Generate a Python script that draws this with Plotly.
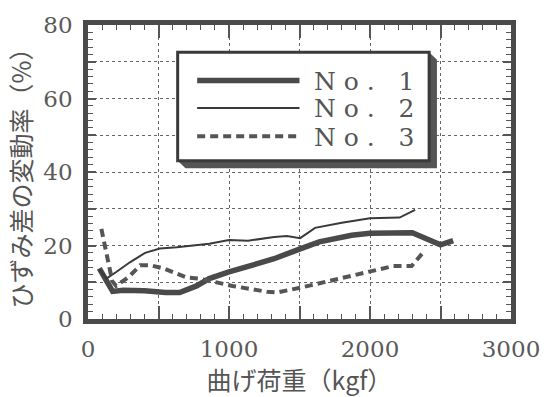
import plotly.graph_objects as go

# ---- data ----
load_1 = [80, 130, 175, 250, 400, 550, 650, 770, 860, 1000, 1180, 1320, 1500, 1640, 1870, 2000, 2300, 2400, 2500, 2590]
rate_1 = [13.8, 10.5, 7.5, 7.8, 7.7, 7.2, 7.2, 9.0, 11.0, 12.8, 15.0, 16.4, 19.0, 21.0, 22.8, 23.3, 23.5, 21.8, 20.2, 21.3]

load_2 = [80, 130, 200, 300, 405, 510, 630, 860, 1000, 1135, 1320, 1410, 1505, 1610, 1800, 2000, 2210, 2320]
rate_2 = [13.5, 11.0, 12.8, 15.5, 18.0, 19.2, 19.5, 20.5, 21.5, 21.3, 22.3, 22.6, 22.0, 24.8, 26.2, 27.4, 27.6, 29.7]

load_3 = [95, 117, 150, 172, 200, 290, 370, 447, 540, 700, 790, 1025, 1270, 1340, 1505, 1730, 1986, 2165, 2295, 2316, 2385]
rate_3 = [24.5, 20.5, 14.6, 10.3, 9.0, 11.5, 14.6, 14.6, 13.7, 11.3, 11.0, 9.0, 7.4, 7.2, 8.5, 10.5, 12.8, 14.4, 14.4, 15.4, 18.5]

series_names = ["N o .   1", "N o .   2", "N o .   3"]

x_tickvals = [0, 500, 1000, 1500, 2000, 2500, 3000]
x_ticktext = ["0", "", "1000", "", "2000", "", "3000"]
y_tickvals = [0, 10, 20, 30, 40, 50, 60, 70, 80]
y_ticktext = ["0", "", "20", "", "40", "", "60", "", "80"]

x_title = "曲げ荷重（kgf）"
y_title = "ひずみ差の変動率（%）"

# ---- styles ----
styles = [
    dict(color="#4a4a4a", width=5.5, dash="solid"),
    dict(color="#3a3a3a", width=2.0, dash="solid"),
    dict(color="#555555", width=4, dash="8px,5px"),
]

fig = go.Figure()
for xs, ys, st, nm in zip([load_1, load_2, load_3], [rate_1, rate_2, rate_3], styles, series_names):
    fig.add_trace(go.Scatter(x=xs, y=ys, mode="lines", name=nm, line=st, showlegend=False))

# plot area in pixels
L, R, T, B = 88, 522, 18, 330
W, H = 552, 397


def fx(px):
    return (px - L) / (R - L)


def fy(py):
    return (B - py) / (B - T)


# ---- manual legend box with shadow ----
bx0, bx1, by0, by1 = 180, 438, 47, 162
sh = 8
shadow_path = "M {},{} L {},{} L {},{} L {},{} L {},{} L {},{} Z".format(
    fx(bx1), fy(by0), fx(bx1 + sh), fy(by0 + sh), fx(bx1 + sh), fy(by1 + sh),
    fx(bx0 + sh), fy(by1 + sh), fx(bx0), fy(by1), fx(bx1), fy(by1))
shapes = [
    dict(type="path", xref="paper", yref="paper", path=shadow_path,
         fillcolor="#555555", line=dict(width=0), layer="above"),
    dict(type="rect", xref="paper", yref="paper", x0=fx(bx0), x1=fx(bx1), y0=fy(by1), y1=fy(by0),
         fillcolor="white", line=dict(color="#3a3a3a", width=3), layer="above"),
]
row_y = [77, 106, 136]
annotations = []
for ry, st, nm in zip(row_y, styles, series_names):
    shapes.append(dict(type="line", xref="paper", yref="paper", x0=fx(200), x1=fx(305),
                       y0=fy(ry), y1=fy(ry), line=st, layer="above"))
    annotations.append(dict(xref="paper", yref="paper", x=fx(318), y=fy(ry + 1), text=nm,
                            showarrow=False, xanchor="left", yanchor="middle",
                            font=dict(family="DejaVu Serif", size=25, color="#555555")))

axis_common = dict(
    showline=True, linewidth=4.5, linecolor="#4a4a4a", mirror="allticks",
    ticks="inside", tickcolor="#555555", tickwidth=1.5,
    showgrid=True, gridcolor="#666666", gridwidth=1.3, griddash="dot",
    zeroline=False, tickfont=dict(family="DejaVu Serif", size=23, color="#5a5a5a"),
)

fig.update_layout(
    width=W, height=H,
    margin=dict(l=L, r=W - R, t=T, b=H - B, pad=0),
    plot_bgcolor="white", paper_bgcolor="white",
    shapes=shapes, annotations=annotations,
    xaxis=dict(axis_common, range=[0, 3000], tickmode="array", tickvals=x_tickvals, ticktext=x_ticktext,
               ticklen=13, ticklabelstandoff=6,
               minor=dict(tickmode="linear", tick0=0, dtick=100, ticks="inside", ticklen=5,
                          tickwidth=1.2, tickcolor="#555555", showgrid=False),
               title=dict(text=x_title, standoff=5,
                          font=dict(family="Noto Sans CJK JP", size=25, color="#555555"))),
    yaxis=dict(axis_common, range=[0, 80], tickmode="array", tickvals=y_tickvals, ticktext=y_ticktext,
               ticklen=8, ticklabelstandoff=6,
               minor=dict(tickmode="linear", tick0=0, dtick=2, ticks="inside", ticklen=5,
                          tickwidth=1.2, tickcolor="#555555", showgrid=False),
               title=dict(text=y_title, standoff=6,
                          font=dict(family="Noto Sans CJK JP", size=25, color="#555555"))),
)

fig.write_html("out.html")
